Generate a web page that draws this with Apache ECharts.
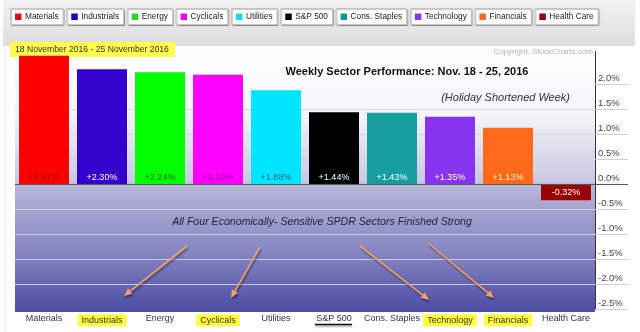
<!DOCTYPE html>
<html><head><meta charset="utf-8">
<script src="https://cdn.jsdelivr.net/npm/echarts@6/dist/echarts.min.js"></script>
<style>html,body{margin:0;padding:0;background:#fff}#c{width:640px;height:332px}</style>
</head><body><div id="c"></div>
<script>
// ---- data ----
const categories = ['Materials','Industrials','Energy','Cyclicals','Utilities','S&P 500','Cons. Staples','Technology','Financials','Health Care'];
const weeklyChange = [2.57, 2.30, 2.24, 2.19, 1.88, 1.44, 1.43, 1.35, 1.13, -0.32];
const yTicks = [-2.5, -2.0, -1.5, -1.0, -0.5, 0.0, 0.5, 1.0, 1.5, 2.0];
const highlighted = ['Industrials','Cyclicals','Technology','Financials'];
const underlined = ['S&P 500'];
const dateRange = '18 November 2016 - 25 November 2016';
const copyright = 'Copyright, StockCharts.com';
const titleText = 'Weekly Sector Performance: Nov. 18 - 25, 2016';
const subtitleText = '(Holiday Shortened Week)';
const noteText = 'All Four Economically- Sensitive SPDR Sectors Finished Strong';

// ---- styles ----
const barColors = ['#ff0000','#3300cc','#00ff00','#ff00ff','#00e5ff','#000000','#189e9e','#8833ee','#ff6a1a','#990000'];
const legendColors = ['#e01010','#2200bb','#22dd22','#ee00ee','#11ddee','#000000','#119999','#8833ee','#ff6622','#990011'];
const labelColors = ['#990000','#ffffff','#007700','#990099','#006680','#ffffff','#ffffff','#ffffff','#ffeedd','#ffffff'];
const FONT = '"Liberation Sans", Arial, sans-serif';

const chart = echarts.init(document.getElementById('c'), null, {renderer: 'canvas'});

const fmtPct = v => (v > 0 ? '+' : '') + v.toFixed(2) + '%';

chart.setOption({
  animation: false,
  backgroundColor: '#ffffff',
  textStyle: {fontFamily: FONT},
  grid: {left: 15, right: 45, top: 51.3, bottom: 22.7, containLabel: false},
  xAxis: {
    type: 'category', data: categories, position: 'bottom', offset: 3,
    axisLine: {show: false, onZero: false}, axisTick: {show: false},
    axisLabel: {
      interval: 0, margin: 2, fontSize: 9, color: '#333', fontFamily: FONT,
      formatter: v => highlighted.includes(v) ? '{hl|' + v + '}' : v,
      rich: {hl: {backgroundColor: '#ffff40', padding: [2, 4, 1, 4], fontSize: 9, color: '#333', fontFamily: FONT}}
    }
  },
  yAxis: [{
    type: 'value', position: 'right', min: -2.5, max: 2.66, interval: 0.5,
    axisLine: {show: true, lineStyle: {color: '#333', width: 1}},
    axisTick: {show: true, length: 33, customValues: yTicks, lineStyle: {color: '#cfcfcf'}},
    axisLabel: {
      customValues: yTicks, margin: 3, fontSize: 9.5, color: '#444', fontFamily: FONT,
      verticalAlign: 'bottom', padding: [0, 0, 1, 0], align: 'left',
      formatter: v => v.toFixed(1) + '%'
    },
    splitLine: {show: true, showMaxLine: false, showMinLine: false, lineStyle: {color: 'rgba(212,212,234,0.9)', width: 1}}
  }, {
    type: 'value', position: 'right', min: -2.5, max: 2.66,
    axisLine: {show: false}, axisLabel: {show: false}, splitLine: {show: false},
    axisTick: {show: true, length: 33, customValues: [0], lineStyle: {color: '#555'}}
  }],
  series: [{
    type: 'bar', barWidth: 50, z: 3,
    data: weeklyChange.map((v, i) => ({
      value: v,
      itemStyle: {color: barColors[i]},
      label: {color: labelColors[i], position: v >= 0 ? 'insideBottom' : 'inside'}
    })),
    label: {show: true, fontSize: 9, distance: 2, fontFamily: FONT, formatter: p => fmtPct(p.value)},
    markLine: {
      silent: true, symbol: 'none', label: {show: false},
      lineStyle: {color: '#555', width: 1, type: 'solid'},
      data: [{yAxis: 0}]
    }
  }]
});

// ---- decorative graphics ----
const g = [];
// header
g.push({type: 'rect', z: -5, shape: {x: 3, y: 0, width: 632, height: 46},
  style: {fill: new echarts.graphic.LinearGradient(0, 0, 0, 1, [{offset: 0, color: '#f3f3f3'}, {offset: 1, color: '#dddddd'}])}});
// plot background
g.push({type: 'rect', z: -5, shape: {x: 15, y: 51, width: 580, height: 261},
  style: {fill: new echarts.graphic.LinearGradient(0, 0, 0, 1, [
    {offset: 0, color: '#ffffff'}, {offset: 0.25, color: '#f3f3f9'}, {offset: 0.5, color: '#c8c8e2'},
    {offset: 0.515, color: '#b6b6d8'}, {offset: 0.75, color: '#8a8ac4'}, {offset: 1, color: '#4c4ca4'}])}});
g.push({type: 'line', z: -4, shape: {x1: 4.5, y1: 46, x2: 4.5, y2: 332}, style: {stroke: '#eeeeee', lineWidth: 1}});

// legend buttons
const LFONT = '8.3px ' + FONT;
const cv = document.createElement('canvas').getContext('2d');
cv.font = LFONT;
let lx = 10;
categories.forEach((c, i) => {
  const tw = cv.measureText(c).width;
  const w = 15 + tw + 4;
  g.push({type: 'rect', z: 1, shape: {x: lx + 0.5, y: 8.5, width: w, height: 16},
    style: {fill: '#ffffff', stroke: '#c4c4c4', lineWidth: 1, shadowBlur: 1, shadowOffsetX: 1, shadowOffsetY: 1, shadowColor: 'rgba(0,0,0,0.25)'}});
  g.push({type: 'rect', z: 2, shape: {x: lx + 5, y: 13.5, width: 6.5, height: 6.5}, style: {fill: legendColors[i]}});
  g.push({type: 'text', z: 2, x: lx + 15, y: 17, style: {text: c, font: LFONT, fill: '#222', verticalAlign: 'middle'}});
  lx += w + 3.6;
});

// date label
g.push({type: 'rect', z: 1, shape: {x: 10, y: 42, width: 165, height: 15}, style: {fill: '#ffff4d'}});
g.push({type: 'text', z: 2, x: 15, y: 50, style: {text: dateRange, font: '8.6px ' + FONT, fill: '#333', verticalAlign: 'middle'}});
// copyright
g.push({type: 'text', z: 2, x: 593, y: 52, style: {text: copyright, font: '8px ' + FONT, fill: '#b0b0b0', align: 'right', verticalAlign: 'middle'}});
// titles
g.push({type: 'text', z: 5, x: 407, y: 72, style: {text: titleText, font: 'bold 11px ' + FONT, fill: '#111', align: 'center', verticalAlign: 'middle'}});
g.push({type: 'text', z: 5, x: 570, y: 98, style: {text: subtitleText, font: 'italic 11px ' + FONT, fill: '#333', align: 'right', verticalAlign: 'middle'}});
g.push({type: 'text', z: 5, x: 322, y: 222, style: {text: noteText, font: 'italic 10.6px ' + FONT, fill: '#1c1c3c', align: 'center', verticalAlign: 'middle'}});

// arrows
function arrow(x1, y1, x2, y2) {
  const ang = Math.atan2(y2 - y1, x2 - x1), L = 8, H = 3.5;
  const bx = x2 - L * Math.cos(ang), by = y2 - L * Math.sin(ang);
  const px = -Math.sin(ang) * H, py = Math.cos(ang) * H;
  const sh = {shadowBlur: 2, shadowOffsetX: 1, shadowOffsetY: 2, shadowColor: 'rgba(0,0,40,0.45)'};
  g.push({type: 'line', z: 5, shape: {x1, y1, x2: bx, y2: by}, style: Object.assign({stroke: '#f4a25c', lineWidth: 1.6}, sh)});
  g.push({type: 'polygon', z: 5, shape: {points: [[x2, y2], [bx + px, by + py], [bx - px, by - py]]}, style: Object.assign({fill: '#f4a25c'}, sh)});
}
arrow(187, 246, 124, 296);
arrow(260, 247, 231, 298);
arrow(360, 246, 429, 300);
arrow(428, 243, 494, 298);

// underline for S&P 500
underlined.forEach(name => {
  const x = chart.convertToPixel({xAxisIndex: 0}, name);
  g.push({type: 'line', z: 5, shape: {x1: x - 19, y1: 324.5, x2: x + 18, y2: 324.5},
    style: {stroke: '#111', lineWidth: 1.4, shadowBlur: 2, shadowOffsetY: 1.5, shadowColor: 'rgba(0,0,0,0.4)'}});
});

chart.setOption({graphic: {elements: g}});
</script>
</body></html>
